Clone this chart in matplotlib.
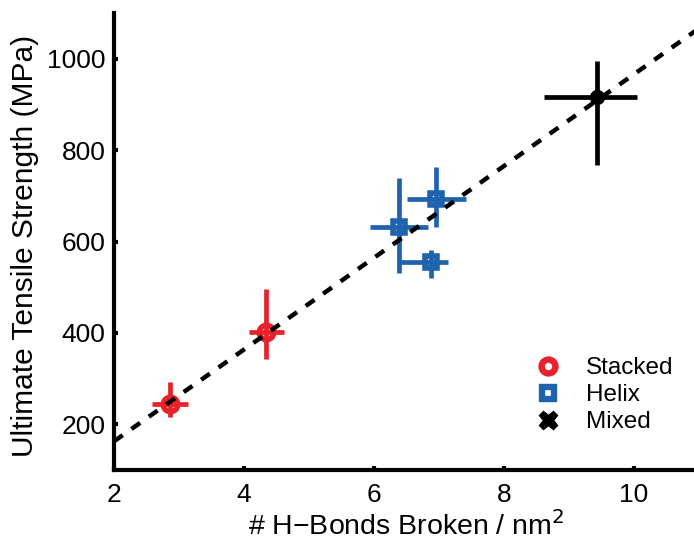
import numpy as np
import matplotlib
matplotlib.use("Agg")
import matplotlib.pyplot as plt
from matplotlib.lines import Line2D

plt.rcParams['font.family'] = ['Liberation Sans', 'DejaVu Sans']

# H-bond density (per nm^2) vs. ultimate tensile strength (MPa)
stacked_x = [2.86, 4.34]
stacked_y = [244, 403]
stacked_xerr_lo = [0.28, 0.27]
stacked_xerr_hi = [0.28, 0.27]
stacked_yerr_lo = [29, 61]
stacked_yerr_hi = [48, 92]

helix_x = [6.38, 6.95, 6.88]
helix_y = [631, 694, 556]
helix_xerr_lo = [0.44, 0.45, 0.48]
helix_xerr_hi = [0.45, 0.46, 0.26]
helix_yerr_lo = [99, 63, 35]
helix_yerr_hi = [107, 70, 26]

mixed_x = [9.43]
mixed_y = [917]
mixed_xerr_lo = [0.81]
mixed_xerr_hi = [0.62]
mixed_yerr_lo = [149]
mixed_yerr_hi = [79]

# linear fit: strength = slope * density + intercept
fit_slope = 100.4
fit_intercept = -38.0

RED = '#E8212A'
BLUE = '#1F62AE'
BLACK = '#000000'

fig = plt.figure(figsize=(6.94, 5.41), dpi=100)
ax = fig.add_axes([114 / 694, 71 / 541, 585 / 694, 457 / 541])
ax.set_xlim(2, 11)
ax.set_ylim(100, 1100)

eb_kw = dict(ls='none', elinewidth=3.4, capsize=0)

ax.errorbar(stacked_x, stacked_y,
            xerr=[stacked_xerr_lo, stacked_xerr_hi],
            yerr=[stacked_yerr_lo, stacked_yerr_hi],
            color=RED, marker='o', ms=10.5, mew=3.9, mfc='none', mec=RED,
            zorder=3, **eb_kw)
ax.errorbar(helix_x, helix_y,
            xerr=[helix_xerr_lo, helix_xerr_hi],
            yerr=[helix_yerr_lo, helix_yerr_hi],
            color=BLUE, marker='s', ms=8.8, mew=4.0, mfc='none', mec=BLUE,
            zorder=3, **eb_kw)
ax.errorbar(mixed_x, mixed_y,
            xerr=[mixed_xerr_lo, mixed_xerr_hi],
            yerr=[mixed_yerr_lo, mixed_yerr_hi],
            color=BLACK, marker='o', ms=10, mfc=BLACK, mec=BLACK,
            zorder=3, **eb_kw)

fit_x = np.array(ax.get_xlim())
ax.plot(fit_x, fit_slope * fit_x + fit_intercept, color='black', lw=3.2,
        dashes=(2.4, 2.4), zorder=4)

ax.set_xticks([2, 4, 6, 8, 10])
ax.set_yticks([200, 400, 600, 800, 1000])
ax.tick_params(direction='in', length=3, width=3, labelsize=19)
ax.tick_params(axis='x', pad=9)
ax.tick_params(axis='y', pad=6)
for side in ('top', 'right'):
    ax.spines[side].set_visible(False)
for side in ('left', 'bottom'):
    ax.spines[side].set_linewidth(3)

ax.set_xlabel('# H\u2212Bonds Broken / nm$^2$', fontsize=20.5, labelpad=3)
ax.set_ylabel('Ultimate Tensile Strength (MPa)', fontsize=21.5)
ax.yaxis.set_label_coords(-0.128, 0.49)

handles = [
    Line2D([], [], ls='none', marker='o', ms=10, mew=4.6, mfc='none', mec=RED),
    Line2D([], [], ls='none', marker='s', ms=9, mew=4.6, mfc='none', mec=BLUE),
    Line2D([], [], ls='none', marker='X', ms=13, mfc=BLACK, mec=BLACK),
]
ax.legend(handles, ['Stacked', 'Helix', 'Mixed'], loc='lower right',
          bbox_to_anchor=(0.994, 0.033), frameon=False, fontsize=17.5,
          handletextpad=1.05, labelspacing=0.2, handlelength=1.0)

fig.savefig('out.png', dpi=100)
